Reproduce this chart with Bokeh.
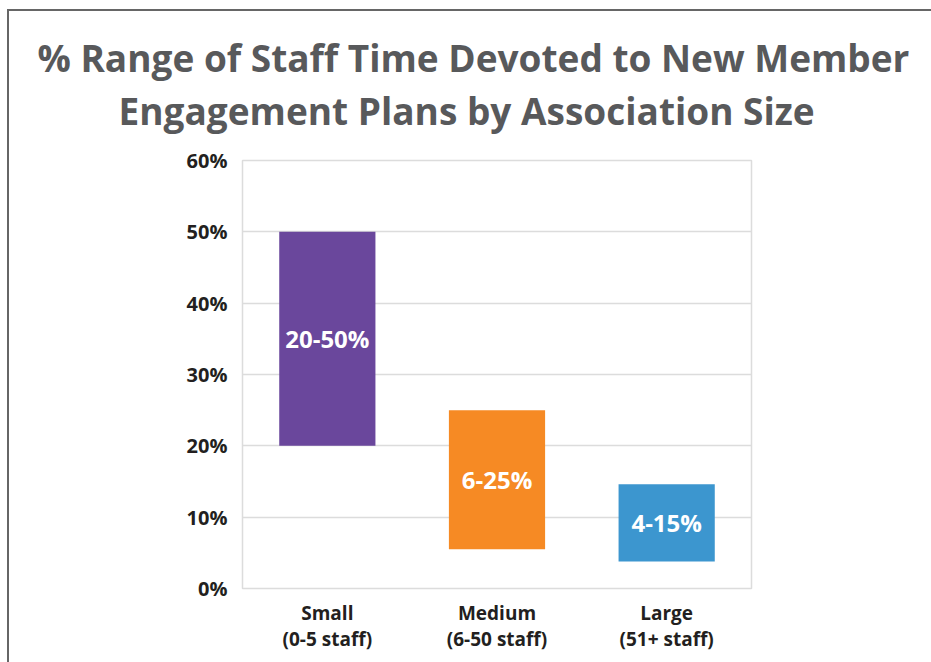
from bokeh.plotting import figure
from bokeh.models import Title, CategoricalAxis, ColumnDataSource, FixedTicker, FactorRange
from bokeh.core.properties import value
from bokeh.embed import file_html
from bokeh.resources import INLINE

categories = ["Small", "Medium", "Large"]
sublabels = ["(0-5 staff)", "(6-50 staff)", "(51+ staff)"]
low = [20, 5.5, 3.8]
high = [50, 25, 14.6]
bar_labels = ["20-50%", "6-25%", "4-15%"]
colors = ["#6a479c", "#f68a24", "#3c96cf"]
yticks = [0, 10, 20, 30, 40, 50, 60]

FONT = "Open Sans"
LABEL_COLOR = "#231f20"

src = ColumnDataSource(dict(
    cat=categories, low=low, high=high, lab=bar_labels, color=colors,
    mid=[(a + b) / 2 for a, b in zip(low, high)],
))

p = figure(width=931, height=662, x_range=categories, y_range=(0, 60),
           output_backend="svg", toolbar_location=None,
           min_border_left=242, min_border_right=180, min_border_bottom=74, min_border_top=160)
p.extra_x_ranges = {"sub": FactorRange(factors=sublabels)}

p.title.text = ""
p.add_layout(Title(text=" ", text_font=FONT, text_font_size="16px", standoff=0), "above")
p.add_layout(Title(text="Engagement Plans by Association Size", align="left", offset=-124,
                   text_font=FONT, text_font_size="37px", text_color="#58595b",
                   text_font_style="bold", standoff=1), "above")
p.add_layout(Title(text="% Range of Staff Time Devoted to New Member", align="left", offset=-205,
                   text_font=FONT, text_font_size="37px", text_color="#58595b",
                   text_font_style="bold", standoff=0), "above")

p.vbar(x="cat", bottom="low", top="high", width=0.567, color="color", line_color=None, source=src)
p.text(x="cat", y="mid", text="lab", source=src, text_color="white",
       text_font=value(FONT), text_font_size="24px", text_font_style="bold",
       text_align="center", text_baseline="middle")

p.background_fill_color = "white"
p.border_fill_color = None
p.outline_line_color = "#dcdcdc"
p.outline_line_width = 1.5
p.xgrid.grid_line_color = None
p.ygrid.grid_line_color = "#dcdcdc"
p.ygrid.grid_line_width = 1.5

p.yaxis.ticker = FixedTicker(ticks=yticks)
p.yaxis.major_label_overrides = {t: f"{t}%" for t in yticks}
p.yaxis.axis_line_color = None
p.yaxis.major_tick_line_color = None
p.yaxis.minor_tick_line_color = None
p.yaxis.major_tick_out = 0
p.yaxis.major_tick_in = 0
p.yaxis.major_label_standoff = 15
p.yaxis.major_label_text_font = FONT
p.yaxis.major_label_text_font_size = "20px"
p.yaxis.major_label_text_font_style = "bold"
p.yaxis.major_label_text_color = LABEL_COLOR

for ax in p.xaxis:
    ax.axis_line_color = None
    ax.major_tick_line_color = None
    ax.minor_tick_line_color = None
    ax.major_tick_out = 0
    ax.major_tick_in = 0
    ax.major_label_standoff = 11
    ax.major_label_text_font = FONT
    ax.major_label_text_font_size = "19px"
    ax.major_label_text_font_style = "bold"
    ax.major_label_text_color = LABEL_COLOR

ax2 = CategoricalAxis(x_range_name="sub", axis_line_color=None, major_tick_line_color=None,
                      minor_tick_line_color=None, major_tick_out=0, major_tick_in=0,
                      major_label_standoff=-3,
                      major_label_text_font=FONT, major_label_text_font_size="19px",
                      major_label_text_font_style="bold", major_label_text_color=LABEL_COLOR)
p.add_layout(ax2, "below")

# outer frame of the graphic: top and left edges (right/bottom fall outside the view)
p.styles = {
    "background": ("linear-gradient(#666666,#666666) 7px 9px / 2px 100% no-repeat, "
                   "linear-gradient(#666666,#666666) 7px 9px / 100% 2px no-repeat, white"),
}

open("out.html", "w").write(file_html(p, INLINE))
